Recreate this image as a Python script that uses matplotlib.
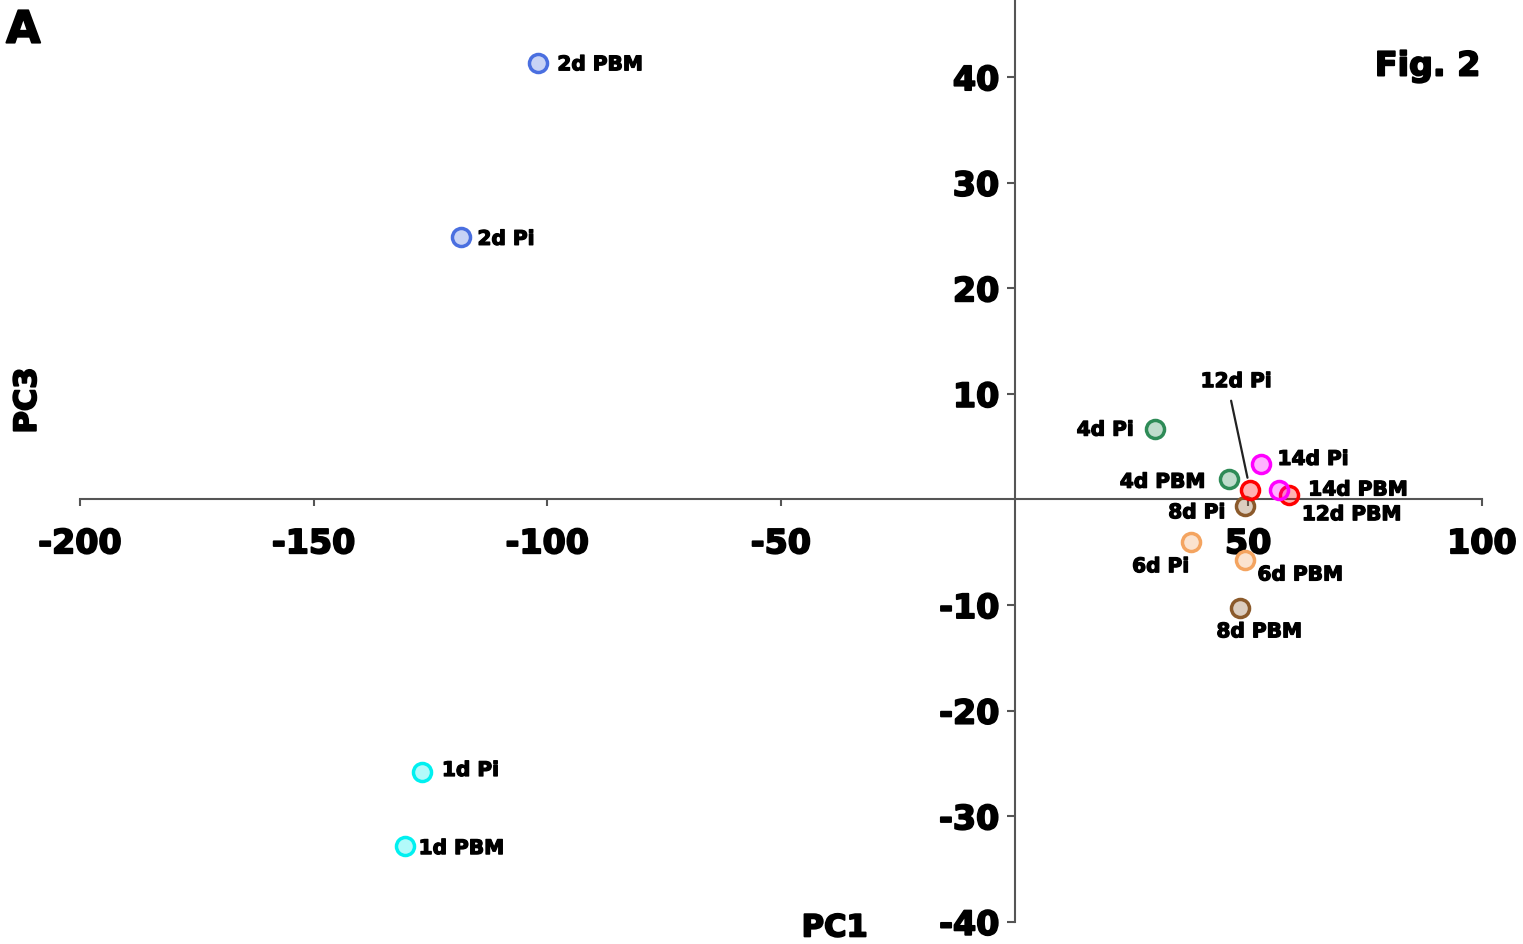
import matplotlib
matplotlib.use('AGG')
import matplotlib.pyplot as plt
import matplotlib.patheffects as pe

plt.rcParams['font.family'] = ['DejaVu Sans']
plt.rcParams['font.weight'] = 'bold'
plt.rcParams['axes.unicode_minus'] = False

# PCA scores per sample
labels = ['1d Pi', '1d PBM', '2d Pi', '2d PBM', '4d Pi', '4d PBM', '6d Pi', '6d PBM',
          '8d Pi', '8d PBM', '12d Pi', '12d PBM', '14d Pi', '14d PBM']
pc1 = [-126.7, -130.5, -118.5, -102.0, 30.0, 45.9, 37.7, 49.3,
       49.3, 48.2, 50.4, 58.8, 52.7, 56.6]
pc3 = [-25.8, -32.8, 24.9, 41.3, 6.7, 1.9, -4.0, -5.7,
       -0.6, -10.3, 0.9, 0.4, 3.4, 0.9]
colors = ['#00f0f0', '#00f0f0', '#4a6fe0', '#4a6fe0', '#2e8b57', '#2e8b57',
          '#f4a460', '#f4a460', '#8b5a2b', '#8b5a2b', '#ff0000', '#ff0000',
          '#ff00ff', '#ff00ff']

# label offsets (points) and alignment
offsets = {
    '1d Pi': (14, 1, 'left'), '1d PBM': (10, -2, 'left'),
    '2d Pi': (12, -2, 'left'), '2d PBM': (14, -1, 'left'),
    '4d Pi': (-15, -1, 'right'), '4d PBM': (-17, -2, 'right'),
    '6d Pi': (-1, -18, 'right'), '6d PBM': (9, -11, 'left'),
    '8d Pi': (-14, -5, 'right'), '8d PBM': (14, -17, 'center'),
    '12d PBM': (9, -14, 'left'), '14d Pi': (12, 3, 'left'),
    '14d PBM': (21, 0, 'left'),
}

heavy = [pe.withStroke(linewidth=0.9, foreground='black')]
heavier = [pe.withStroke(linewidth=1.3, foreground='black')]

fig = plt.figure(figsize=(15.23, 9.45), dpi=100)
ax = fig.add_axes([0, 0, 1, 1])
ax.set_xlim(-217.1, 108.8)
ax.set_ylim(-42.1, 47.4)

for lab, x, y, c in zip(labels, pc1, pc3, colors):
    ax.plot(x, y, 'o', ms=13, mfc=matplotlib.colors.to_rgba(c, 0.3),
            mec=c, mew=2.5, zorder=3)
    if lab == '12d Pi':
        ax.annotate(lab, (x, y), xytext=(-10, 78), textcoords='offset points',
                    ha='center', va='center', fontsize=14.5, fontweight='bold',
                    path_effects=heavy,
                    arrowprops=dict(arrowstyle='-', color='#222222', lw=1.6,
                                    relpos=(0.4, 0), shrinkA=5, shrinkB=9))
    else:
        dx, dy, ha = offsets[lab]
        ax.annotate(lab, (x, y), xytext=(dx, dy), textcoords='offset points',
                    ha=ha, va='center', fontsize=14.5, fontweight='bold',
                    path_effects=heavy)

# axes crossing at the origin
for side in ('top', 'right'):
    ax.spines[side].set_visible(False)
ax.spines['left'].set_position(('data', 0))
ax.spines['bottom'].set_position(('data', 0))
ax.spines['left'].set_bounds(-40, 47.4)
ax.spines['bottom'].set_bounds(-200, 100)
for side in ('left', 'bottom'):
    ax.spines[side].set_color('#555555')
    ax.spines[side].set_linewidth(1.5)

ax.set_xticks([-200, -150, -100, -50, 50, 100])
ax.set_yticks([-40, -30, -20, -10, 10, 20, 30, 40])
ax.tick_params(axis='x', direction='out', length=5, width=1.5, color='#555555',
               pad=15, labelsize=24)
ax.tick_params(axis='y', direction='out', length=6, width=1.5, color='#555555',
               pad=5, labelsize=24)
for t in ax.get_xticklabels() + ax.get_yticklabels():
    t.set_fontweight('bold')
    t.set_path_effects(heavier)

fig.text(0.548, 0.008, 'PC1', fontsize=22, fontweight='bold', ha='center',
         va='baseline', path_effects=heavier)
fig.text(0.018, 0.575, 'PC3', fontsize=22, fontweight='bold', rotation=90,
         ha='center', va='center', path_effects=heavier)
fig.text(0.004, 0.967, 'A', fontsize=32, fontweight='bold', ha='left', va='center',
         path_effects=heavier)
fig.text(0.972, 0.929, 'Fig. 2', fontsize=24, fontweight='bold', ha='right',
         va='center', path_effects=heavier)

fig.savefig('out.png', dpi=100)
plt.close()
